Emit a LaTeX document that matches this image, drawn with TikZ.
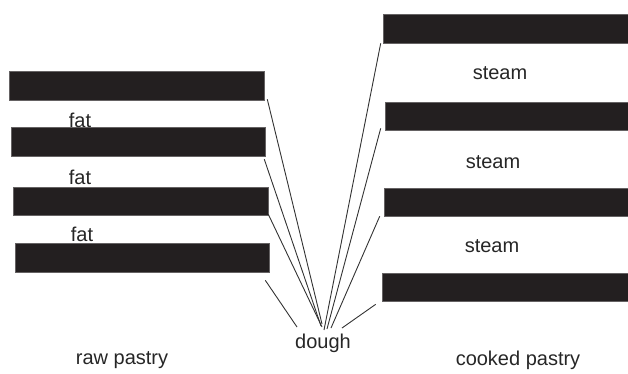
\documentclass[tikz,border=0pt]{standalone}
\usepackage{fontspec}
\setmainfont{Liberation Sans}
\usetikzlibrary{calc}
\definecolor{barcol}{RGB}{35,31,32}
\begin{document}
\begin{tikzpicture}[x=1pt,y=-1pt,
  bar/.style={fill=barcol,draw=barcol!70,line width=0.6pt,inner sep=0pt,minimum height=29pt},
  lbl/.style={font=\fontsize{20}{24}\selectfont,text=black!85,inner sep=0pt},
  conn/.style={draw=black!80,line width=0.9pt}]
\useasboundingbox (0,0) rectangle (628,373);
% left bars (raw pastry)
\node[bar,minimum width=255pt] (L1) at (136.5,85.5) {};
\node[bar,minimum width=254pt] (L2) at (138,141.5) {};
\node[bar,minimum width=255pt,minimum height=28pt] (L3) at (140.5,201) {};
\node[bar,minimum width=254pt] (L4) at (142,257.5) {};
% right bars (cooked pastry)
\node[bar,minimum width=245pt] (R1) at (505.5,28.5) {};
\node[bar,minimum width=243pt,minimum height=28pt] (R2) at (506.5,116) {};
\node[bar,minimum width=244pt,minimum height=28pt] (R3) at (506,202) {};
\node[bar,minimum width=246pt,minimum height=28pt] (R4) at (505,287) {};
% labels
\node[lbl] (f1) at (80,120) {fat};
\node[lbl] (f2) at (80,177) {fat};
\node[lbl] (f3) at (82,234) {fat};
\node[lbl] (s1) at (500,73) {steam};
\node[lbl] (s2) at (493,162) {steam};
\node[lbl] (s3) at (492,246) {steam};
\node[lbl] (dough) at (323,343) {dough};
\node[lbl] (raw) at (122,360) {raw pastry};
\node[lbl] (cooked) at (518,360) {cooked pastry};
% convergence points above dough
\coordinate (cL1) at (322,324);
\coordinate (cL2) at (321,326);
\coordinate (cL3) at (322,327);
\coordinate (cL4) at (297,327);
\coordinate (cR1) at (324,330);
\coordinate (cR2) at (327,329);
\coordinate (cR3) at (331,328);
\coordinate (cR4) at (342,328);
% connectors
\draw[conn] ($(L1.south east)+(3,-1)$) -- (cL1);
\draw[conn] ($(L2.south east)+(-1,3)$) -- (cL2);
\draw[conn] ($(L3.south east)+(0,-1)$) -- (cL3);
\draw[conn] ($(L4.south east)+(-4,8)$) -- (cL4);
\draw[conn] ($(R1.south west)+(-2,0)$) -- (cR1);
\draw[conn] ($(R2.south west)+(-4,-2)$) -- (cR2);
\draw[conn] ($(R3.south west)+(-4,0)$) -- (cR3);
\draw[conn] ($(R4.south west)+(-6,3)$) -- (cR4);
\end{tikzpicture}
\end{document}
